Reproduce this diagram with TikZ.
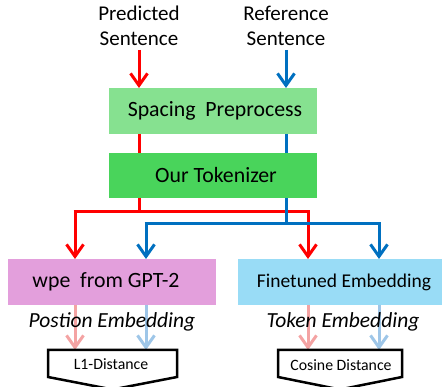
\documentclass[tikz,border=0pt]{standalone}
\usepackage{fontspec}
\setmainfont{Carlito}
\usetikzlibrary{arrows.meta}
\definecolor{cred}{HTML}{FF0000}
\definecolor{cblue}{HTML}{0070C0}
\definecolor{fred}{HTML}{F4A3A3}
\definecolor{fblue}{HTML}{9EC6E8}
\definecolor{gsp}{HTML}{86E190}
\definecolor{gtok}{HTML}{49D45B}
\definecolor{cwpe}{HTML}{E39FDC}
\definecolor{cfin}{HTML}{99DCF6}
\tikzset{
  flow/.style={line width=3pt, -{Straight Barb[length=12pt,width=17pt]}},
  flowline/.style={line width=3pt},
  blk/.style={inner sep=0pt, minimum height=46pt, font=\fontsize{21.8}{24}\selectfont},
  lbl/.style={font=\fontsize{21}{25}\selectfont, align=center, inner sep=0pt},
  itl/.style={font=\fontsize{21.5}{24}\selectfont\itshape, inner sep=0pt},
  dist/.style={font=\fontsize{15.8}{18}\selectfont, inner sep=0pt},
  distshape/.style={draw=black, line width=2.5pt, fill=white, line join=miter}
}
\begin{document}
\begin{tikzpicture}[x=1pt,y=-1pt]
\useasboundingbox (0,0) rectangle (442,387);
\clip (0,0) rectangle (442,387);
% top labels
\node[lbl] (pred) at (139,26) {Predicted\\Sentence};
\node[lbl] (ref) at (286,26) {Reference\\Sentence};
% boxes
\fill[gsp] (109,88) rectangle (317,134);
\node[blk] (sp) at (215,111) {Spacing\ \ Preprocess};
\fill[gtok] (109,153) rectangle (317,198);
\node[blk] (tok) at (216,175.5) {Our Tokenizer};
\fill[cwpe] (8,259) rectangle (216,305);
\node[blk] (wpe) at (106,282) {wpe\ \ from GPT-2};
\fill[cfin] (238,259) rectangle (442,305);
\node[blk, font=\fontsize{19.5}{24}\selectfont] (fin) at (344,282) {Finetuned Embedding};
% coordinates
\coordinate (rx) at (139,0);
\coordinate (bx) at (286,0);
\coordinate (spT) at (0,88);
\coordinate (spB) at (0,134);
\coordinate (tkT) at (0,153);
\coordinate (tkB) at (0,198);
\coordinate (rh) at (0,212);
\coordinate (bh) at (0,224);
\coordinate (eT) at (0,259);
\coordinate (eB) at (0,305);
\coordinate (dT) at (0,350);
\coordinate (x1) at (75,0);
\coordinate (x2) at (146,0);
\coordinate (x3) at (308,0);
\coordinate (x4) at (379,0);
% input arrows
\draw[flow, cred] (rx |- 0,50) -- (rx |- spT);
\draw[flow, cblue] (bx |- 0,50) -- (bx |- spT);
\draw[flowline, cred] (rx |- spB) -- (rx |- tkT);
\draw[flowline, cblue] (bx |- spB) -- (bx |- tkT);
% red branches
\draw[flowline, cred] (rx |- tkB) -- (rx |- rh);
\draw[flow, cred] (x1 |- rh) -- (x1 |- eT);
\draw[flow, cred] (x3 |- rh) -- (x3 |- eT);
\draw[flowline, cred] ([xshift=-1.5pt]x1 |- rh) -- ([xshift=1.5pt]x3 |- rh);
% blue branches
\draw[flowline, cblue] (bx |- tkB) -- (bx |- bh);
\draw[flow, cblue] (x2 |- bh) -- (x2 |- eT);
\draw[flow, cblue] (x4 |- bh) -- (x4 |- eT);
\draw[flowline, cblue] ([xshift=-1.5pt]x2 |- bh) -- ([xshift=1.5pt]x4 |- bh);
% faded arrows
\draw[flow, fred] (x1 |- eB) -- (x1 |- dT);
\draw[flow, fblue] (x2 |- eB) -- (x2 |- dT);
\draw[flow, fred] (x3 |- eB) -- (x3 |- dT);
\draw[flow, fblue] (x4 |- eB) -- (x4 |- dT);
% italic labels
\node[itl] (pe) at (112,322) {Postion Embedding};
\node[itl] (te) at (343,322) {Token Embedding};
% distance shapes
\draw[distshape] (48,350) -- (177,350) -- (177,377) -- (112.5,389.5) -- (48,377) -- cycle;
\node[dist] (l1) at (111,364) {L1-Distance};
\draw[distshape] (278,350) -- (402,350) -- (402,377) -- (340,389.5) -- (278,377) -- cycle;
\node[dist] (cos) at (341,365) {Cosine Distance};
\end{tikzpicture}
\end{document}
